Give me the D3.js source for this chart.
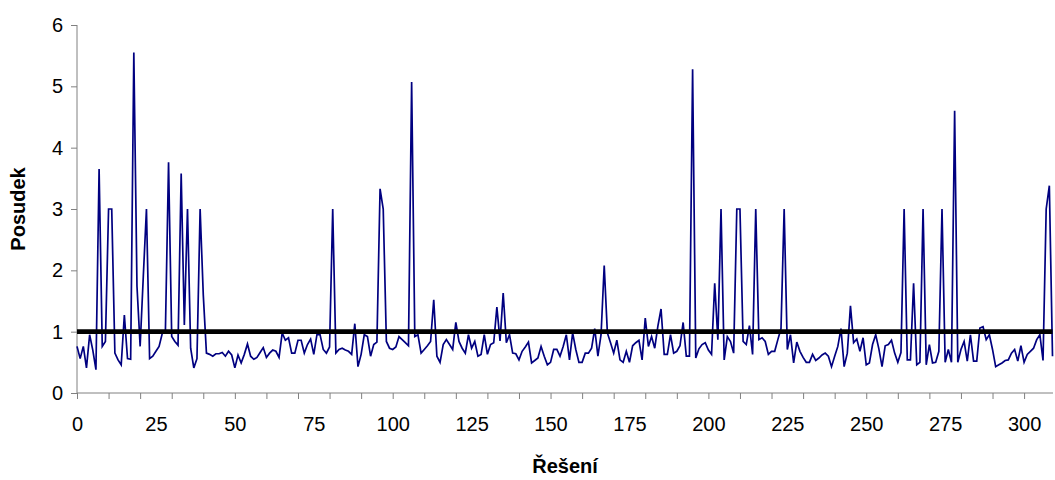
<!DOCTYPE html>
<html>
<head>
<meta charset="utf-8">
<script src="https://cdn.jsdelivr.net/npm/d3@7"></script>
<style>
    body { margin: 0; background: #fff; }
    svg { display: block; font-family: Arial, "Liberation Sans", sans-serif; }
    .axis path, .axis line { stroke: #808080; }
    .axis text { fill: #000; font-size: 20px; }
</style>
</head>
<body>
<div id="chart"></div>
<script>
// posudek for each reseni (index 0..309)
const posudek = [
    0.76, 0.56, 0.76, 0.41, 0.95, 0.70, 0.38, 3.65, 0.76, 0.84,
    3.00, 3.00, 0.65, 0.54, 0.46, 1.27, 0.56, 0.55, 5.55, 1.74,
    0.76, 1.90, 3.00, 0.56, 0.60, 0.68, 0.76, 0.97, 1.00, 3.76,
    0.92, 0.84, 0.78, 3.58, 1.11, 3.00, 0.73, 0.41, 0.56, 3.00,
    1.60, 0.65, 0.63, 0.60, 0.64, 0.64, 0.66, 0.60, 0.68, 0.62,
    0.41, 0.62, 0.49, 0.63, 0.80, 0.60, 0.55, 0.58, 0.66, 0.74,
    0.58, 0.65, 0.70, 0.68, 0.58, 0.98, 0.86, 0.90, 0.65, 0.65,
    0.86, 0.86, 0.65, 0.79, 0.88, 0.63, 0.95, 0.95, 0.71, 0.65,
    0.75, 3.00, 0.65, 0.71, 0.73, 0.70, 0.68, 0.63, 1.13, 0.43,
    0.63, 0.95, 0.92, 0.60, 0.79, 0.83, 3.33, 3.00, 0.84, 0.73,
    0.71, 0.75, 0.92, 0.87, 0.82, 0.77, 5.07, 0.92, 0.95, 0.65,
    0.71, 0.77, 0.84, 1.52, 0.60, 0.50, 0.79, 0.87, 0.79, 0.71,
    1.15, 0.84, 0.73, 0.65, 0.95, 0.73, 0.84, 0.60, 0.63, 0.95,
    0.63, 0.79, 0.82, 1.40, 0.85, 1.63, 0.82, 0.95, 0.65, 0.64,
    0.54, 0.68, 0.75, 0.83, 0.49, 0.53, 0.57, 0.76, 0.60, 0.46,
    0.50, 0.71, 0.71, 0.60, 0.76, 0.95, 0.54, 0.98, 0.71, 0.50,
    0.50, 0.65, 0.65, 0.73, 1.05, 0.60, 0.95, 2.08, 0.98, 0.82,
    0.65, 0.86, 0.54, 0.50, 0.68, 0.50, 0.77, 0.82, 0.86, 0.54,
    1.22, 0.76, 0.92, 0.73, 1.09, 1.37, 0.63, 0.63, 0.95, 0.65,
    0.68, 0.77, 1.15, 0.60, 0.60, 5.28, 0.57, 0.72, 0.79, 0.82,
    0.70, 0.63, 1.79, 0.87, 3.00, 0.54, 0.92, 0.84, 0.65, 3.00,
    3.00, 0.84, 0.79, 1.10, 0.63, 3.00, 0.87, 0.90, 0.84, 0.63,
    0.68, 0.68, 0.87, 1.05, 3.00, 0.71, 0.95, 0.49, 0.83, 0.68,
    0.58, 0.50, 0.50, 0.63, 0.53, 0.57, 0.62, 0.65, 0.60, 0.43,
    0.60, 0.76, 1.05, 0.43, 0.65, 1.42, 0.82, 0.88, 0.68, 0.90,
    0.46, 0.49, 0.79, 0.95, 0.72, 0.43, 0.77, 0.79, 0.86, 0.65,
    0.50, 0.66, 3.00, 0.54, 0.54, 1.79, 0.46, 0.50, 3.00, 0.46,
    0.79, 0.49, 0.50, 0.68, 3.00, 0.50, 0.71, 0.50, 4.60, 0.50,
    0.71, 0.84, 0.52, 0.95, 0.52, 0.52, 1.06, 1.08, 0.87, 0.95,
    0.71, 0.43, 0.46, 0.49, 0.53, 0.54, 0.65, 0.71, 0.52, 0.77,
    0.50, 0.63, 0.68, 0.73, 0.87, 0.95, 0.53, 3.00, 3.38, 0.60
]
const hranice = 1          // black reference line
const xLabelTicks = [0, 25, 50, 75, 100, 125, 150, 175, 200, 225, 250, 275, 300]
const xMarkTicks = d3.range(0, 301, 10)
const yTicks = [0, 1, 2, 3, 4, 5, 6]

const WIDTH = 1055, HEIGHT = 480
const MARGIN = { LEFT: 77, RIGHT: 2, TOP: 25, BOTTOM: 87 }
const W = WIDTH - MARGIN.LEFT - MARGIN.RIGHT
const H = HEIGHT - MARGIN.TOP - MARGIN.BOTTOM

const svg = d3.select("#chart").append("svg")
    .attr("width", WIDTH)
    .attr("height", HEIGHT)

const g = svg.append("g")
    .attr("transform", `translate(${MARGIN.LEFT}, ${MARGIN.TOP})`)

const x = d3.scaleLinear().domain([0, posudek.length - 1]).range([0, W - 0.5])
const y = d3.scaleLinear().domain([0, 6]).range([H, 0])

// y axis
g.append("g")
    .attr("class", "axis")
    .call(d3.axisLeft(y).tickValues(yTicks).tickSize(6).tickPadding(8).tickFormat(d3.format("d")))
    .call(a => a.select(".domain").attr("d", `M0,0V${H}`))

// x axis: marks every 10, labels every 25
g.append("g")
    .attr("class", "axis")
    .attr("transform", `translate(0, ${H})`)
    .call(d3.axisBottom(x).tickValues(xMarkTicks).tickSize(6).tickFormat(""))
    .call(a => a.select(".domain").attr("d", `M0,0H${W}`))

g.append("g")
    .attr("class", "axis")
    .attr("transform", `translate(0, ${H})`)
    .call(d3.axisBottom(x).tickValues(xLabelTicks).tickSize(0).tickPadding(24))
    .call(a => a.select(".domain").remove())

// data line
g.append("path")
    .datum(posudek)
    .attr("fill", "none")
    .attr("stroke", "#000080")
    .attr("stroke-width", 1.7)
    .attr("d", d3.line().x((d, i) => x(i)).y(d => y(d)))

// reference line at 1
g.append("line")
    .attr("x1", x(0))
    .attr("x2", x(posudek.length - 1))
    .attr("y1", y(hranice))
    .attr("y2", y(hranice))
    .attr("stroke", "#000")
    .attr("stroke-width", 4.8)

// labels
g.append("text")
    .attr("x", W / 2)
    .attr("y", H + 80)
    .attr("text-anchor", "middle")
    .attr("font-size", "20px")
    .attr("font-weight", "bold")
    .text("Řešení")

g.append("text")
    .attr("transform", "rotate(-90)")
    .attr("x", -H / 2)
    .attr("y", -52)
    .attr("text-anchor", "middle")
    .attr("font-size", "20px")
    .attr("font-weight", "bold")
    .text("Posudek")
</script>
</body>
</html>
